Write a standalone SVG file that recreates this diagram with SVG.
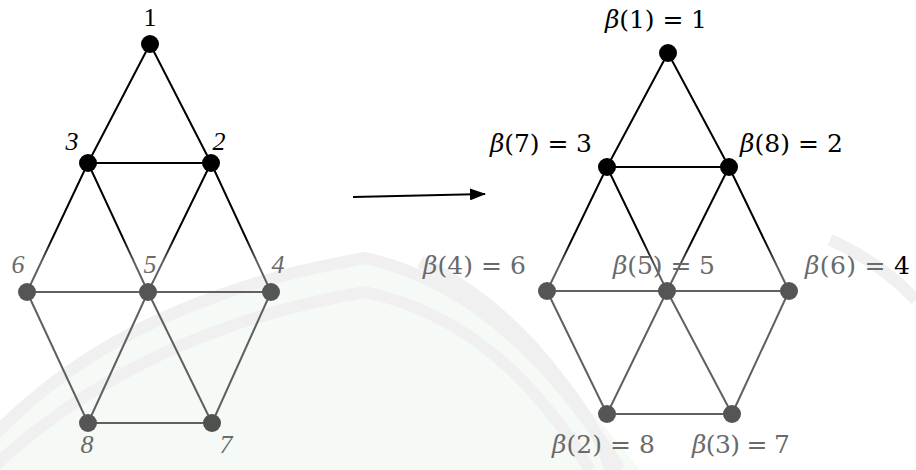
<svg xmlns="http://www.w3.org/2000/svg" width="916" height="470" viewBox="0 0 916 470">
<style>
.lbl{font-family:"Liberation Serif","Times New Roman",serif;font-size:26px;text-anchor:middle}
.it{font-style:italic}
.g{fill:#6a6a6a}
.k{fill:#000}
.m{font-family:"DejaVu Serif","Liberation Serif",serif;font-size:25px}
.b{font-style:italic}
.edgeL{stroke:url(#gL);stroke-width:2;fill:none}
.edgeR{stroke:url(#gR);stroke-width:2;fill:none}
.wm{fill:none;stroke:#f0f0f0;stroke-width:12}
</style>
<defs>
<linearGradient id="gL" gradientUnits="userSpaceOnUse" x1="0" y1="238" x2="0" y2="262">
<stop offset="0" stop-color="#000"/><stop offset="1" stop-color="#606060"/>
</linearGradient>
<linearGradient id="gR" gradientUnits="userSpaceOnUse" x1="0" y1="242" x2="0" y2="266">
<stop offset="0" stop-color="#000"/><stop offset="1" stop-color="#606060"/>
</linearGradient>
<marker id="ah" viewBox="0 0 16 12" refX="15" refY="6" markerWidth="16" markerHeight="12" markerUnits="userSpaceOnUse" orient="auto">
<path d="M0,0 L16,6 L0,12 Z" fill="#000"/>
</marker>
</defs>
<rect width="916" height="470" fill="#fff"/>
<g id="watermark">
<path d="M-10,470 L-10,430 Q120,300 365,262 Q500,290 640,470 Z" fill="#f6faf7"/>
<path class="wm" d="M-10,440 Q120,300 365,258 Q510,290 620,470"/>
<path class="wm" d="M-10,470 Q140,330 365,292 Q500,320 590,470" stroke="#f4f4f4"/>
<path class="wm" d="M420,262 Q500,300 560,380 Q600,430 610,470" stroke="#f4f4f4"/>
<path class="wm" d="M830,240 Q880,262 916,300" stroke="#f2f2f2"/>
</g>
<g id="arrow">
<line x1="353" y1="197" x2="485" y2="194" stroke="#000" stroke-width="2" marker-end="url(#ah)"/>
</g>
<g id="connectors-left">
<path class="edgeL" d="M150,44 L88,163 M150,44 L211,163 M88,163 L211,163 M88,163 L27,292 M88,163 L148,292 M211,163 L148,292 M211,163 L271,292 M27,292 L271,292 M27,292 L88,423 M148,292 L88,423 M148,292 L212,423 M271,292 L212,423 M88,423 L212,423"/>
</g>
<g id="connectors-right">
<path class="edgeR" d="M668,53 L607,167 M668,53 L729,167 M607,167 L729,167 M607,167 L547,291 M607,167 L667,291 M729,167 L667,291 M729,167 L789,291 M547,291 L789,291 M547,291 L607,414 M667,291 L607,414 M667,291 L732,414 M789,291 L732,414 M607,414 L732,414"/>
</g>
<g id="L1"><circle cx="150" cy="44" r="9" fill="#000"/><text class="lbl k" x="150" y="26">1</text></g>
<g id="L3"><circle cx="88" cy="163" r="9" fill="#000"/><text class="lbl it k" x="72" y="150">3</text></g>
<g id="L2"><circle cx="211" cy="163" r="9" fill="#000"/><text class="lbl it k" x="219" y="150">2</text></g>
<g id="L6"><circle cx="27" cy="292" r="9" fill="#555"/><text class="lbl it g" x="18" y="273">6</text></g>
<g id="L5"><circle cx="148" cy="292" r="9" fill="#555"/><text class="lbl it g" x="150" y="273">5</text></g>
<g id="L4"><circle cx="271" cy="292" r="9" fill="#555"/><text class="lbl it g" x="278" y="273">4</text></g>
<g id="L8"><circle cx="88" cy="423" r="9" fill="#555"/><text class="lbl it g" x="87" y="453">8</text></g>
<g id="L7"><circle cx="212" cy="423" r="9" fill="#4d524c"/><text class="lbl it g" x="226" y="453">7</text></g>
<g id="R1"><circle cx="668" cy="53" r="9" fill="#000"/><text class="m k" x="605" y="28" textLength="102" lengthAdjust="spacing"><tspan class="b">β</tspan>(1) = 1</text></g>
<g id="R3"><circle cx="607" cy="167" r="9" fill="#000"/><text class="m k" x="490" y="152" textLength="102" lengthAdjust="spacing"><tspan class="b">β</tspan>(7) = 3</text></g>
<g id="R2"><circle cx="729" cy="167" r="9" fill="#000"/><text class="m k" x="740" y="152" textLength="103" lengthAdjust="spacing"><tspan class="b">β</tspan>(8) = 2</text></g>
<g id="R6"><circle cx="547" cy="291" r="9" fill="#555"/><text class="m g" x="423" y="274" textLength="103" lengthAdjust="spacing"><tspan class="b">β</tspan>(4) = 6</text></g>
<g id="R5"><circle cx="667" cy="291" r="9" fill="#555"/><text class="m g" x="613" y="274" textLength="102" lengthAdjust="spacing"><tspan class="b">β</tspan>(5) = 5</text></g>
<g id="R4"><circle cx="789" cy="291" r="9" fill="#555"/><text class="m g" x="805" y="274" textLength="105" lengthAdjust="spacing"><tspan class="b">β</tspan>(6) = <tspan class="k">4</tspan></text></g>
<g id="R8"><circle cx="607" cy="414" r="9" fill="#555"/><text class="m g" x="552" y="453" textLength="103" lengthAdjust="spacing"><tspan class="b">β</tspan>(2) = 8</text></g>
<g id="R7"><circle cx="732" cy="414" r="9" fill="#555"/><text class="m g" x="692" y="453" textLength="98" lengthAdjust="spacing"><tspan class="b">β</tspan>(3) = 7</text></g>
</svg>
